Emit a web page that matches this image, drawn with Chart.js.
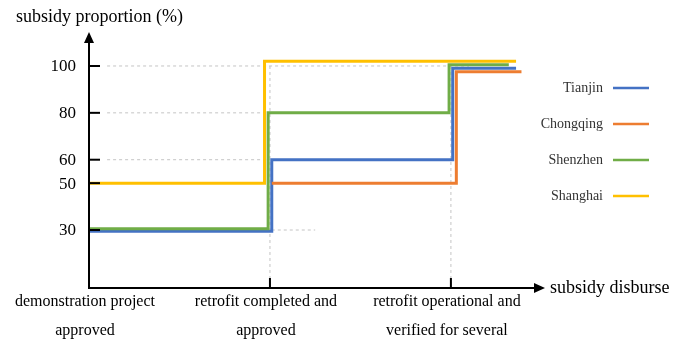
<!DOCTYPE html>
<html>
<head>
<meta charset="utf-8">
<title>subsidy proportion</title>
<script src="https://cdn.jsdelivr.net/npm/chart.js@4.4.1/dist/chart.umd.min.js"></script>
<style>
  body { margin: 0; background: #fff; }
</style>
</head>
<body>
<canvas id="grafico" width="689" height="342"></canvas>
<script>
// datos
const cities = ['Tianjin', 'Chongqing', 'Shenzhen', 'Shanghai'];
const colors = ['#4472C4', '#ED7D31', '#70AD47', '#FFC000'];
const stages = [
    ['demonstration project', 'approved'],
    ['retrofit completed and', 'approved'],
    ['retrofit operational and', 'verified for several']
];
const yTicks = [30, 50, 60, 80, 100];

// escalones (x = etapa, y = % de subsidio)
const tianjinX = [0, 1.01, 2.01, 2.36];
const tianjinY = [29.5, 60, 99, 99];
const chongqingX = [1.01, 2.03, 2.39];
const chongqingY = [50, 97.5, 97.5];
const shenzhenX = [0, 0.99, 1.99, 2.32];
const shenzhenY = [30.5, 80, 100.5, 100.5];
const shanghaiX = [0, 0.97, 2.36];
const shanghaiY = [50, 102, 102];

// líneas guía punteadas
const guideH = [
    { y: 100, from: 0.1, to: 2.1 },
    { y: 80, from: 0.1, to: 0.97 },
    { y: 60, from: 0.1, to: 1.0 },
    { y: 50, from: 0.1, to: 0.97 },
    { y: 30, from: 1.01, to: 1.25 }
];
const guideV = [1, 2];

const toPoints = (xs, ys) => xs.map((x, i) => ({ x: x, y: ys[i] }));
const seriesX = [tianjinX, chongqingX, shenzhenX, shanghaiX];
const seriesY = [tianjinY, chongqingY, shenzhenY, shanghaiY];

const datasets = cities.map((c, i) => ({
    label: c,
    data: toPoints(seriesX[i], seriesY[i]),
    borderColor: colors[i],
    borderWidth: 3,
    stepped: true,
    pointRadius: 0,
    fill: false,
    order: 4 - i
}));

const guideStyle = { borderColor: '#c4c4c4', borderWidth: 1, borderDash: [3, 3], pointRadius: 0, fill: false, order: 10, label: '' };
guideH.forEach(g => datasets.push(Object.assign({ data: [{ x: g.from, y: g.y }, { x: g.to, y: g.y }] }, guideStyle)));
guideV.forEach(v => datasets.push(Object.assign({ data: [{ x: v, y: 100 }, { x: v, y: 5.25 }] }, guideStyle)));

const serif = '"Liberation Serif", "Times New Roman", serif';

// ejes con flechas, ticks internos, etiquetas y leyenda
const decoracion = {
    id: 'decoracion',
    afterDatasetsDraw(chart) {
        const { ctx, chartArea: a, scales: { x, y } } = chart;
        ctx.save();
        ctx.strokeStyle = '#000';
        ctx.fillStyle = '#000';
        ctx.lineWidth = 2;

        // eje y + flecha
        ctx.beginPath(); ctx.moveTo(a.left, a.bottom); ctx.lineTo(a.left, a.top + 8); ctx.stroke();
        ctx.beginPath(); ctx.moveTo(a.left, a.top); ctx.lineTo(a.left - 5, a.top + 11); ctx.lineTo(a.left + 5, a.top + 11); ctx.closePath(); ctx.fill();
        // eje x + flecha
        ctx.beginPath(); ctx.moveTo(a.left - 1, a.bottom); ctx.lineTo(a.right - 8, a.bottom); ctx.stroke();
        ctx.beginPath(); ctx.moveTo(a.right, a.bottom); ctx.lineTo(a.right - 11, a.bottom - 5); ctx.lineTo(a.right - 11, a.bottom + 5); ctx.closePath(); ctx.fill();

        // ticks y
        ctx.font = '17px ' + serif;
        ctx.textAlign = 'right';
        ctx.textBaseline = 'middle';
        yTicks.forEach(v => {
            const py = y.getPixelForValue(v);
            ctx.beginPath(); ctx.moveTo(a.left, py); ctx.lineTo(a.left + 11, py); ctx.stroke();
            ctx.fillText(String(v), a.left - 13, py + 1);
        });

        // ticks x y etiquetas de etapas
        ctx.font = '16px ' + serif;
        ctx.textAlign = 'center';
        stages.forEach((lines, i) => {
            const px = x.getPixelForValue(i);
            if (i > 0) {
                ctx.beginPath(); ctx.moveTo(px, a.bottom); ctx.lineTo(px, a.bottom - 10); ctx.stroke();
            }
            lines.forEach((t, k) => ctx.fillText(t, px - 4, a.bottom + 14 + k * 29));
        });

        // títulos de ejes
        ctx.font = '18px ' + serif;
        ctx.textAlign = 'left';
        ctx.fillText('subsidy proportion (%)', 16, 17);
        ctx.fillText('subsidy disburse', a.right + 5, a.bottom);

        // leyenda
        ctx.font = '14px ' + serif;
        ctx.textAlign = 'right';
        ctx.fillStyle = '#333';
        ctx.lineWidth = 2.5;
        cities.forEach((c, i) => {
            const ly = 88 + i * 36;
            ctx.fillText(c, 603, ly);
            ctx.strokeStyle = colors[i];
            ctx.beginPath(); ctx.moveTo(613, ly); ctx.lineTo(649, ly); ctx.stroke();
        });
        ctx.restore();
    }
};

new Chart(document.getElementById('grafico'), {
    type: 'line',
    data: { datasets: datasets },
    options: {
        responsive: false,
        animation: false,
        layout: { padding: { left: 89, right: 144, top: 32, bottom: 54 } },
        scales: {
            x: { type: 'linear', display: false, min: 0, max: 2.52 },
            y: { type: 'linear', display: false, min: 5.25, max: 114.5 }
        },
        plugins: { legend: { display: false }, tooltip: { enabled: false } }
    },
    plugins: [decoracion]
});
</script>
</body>
</html>
